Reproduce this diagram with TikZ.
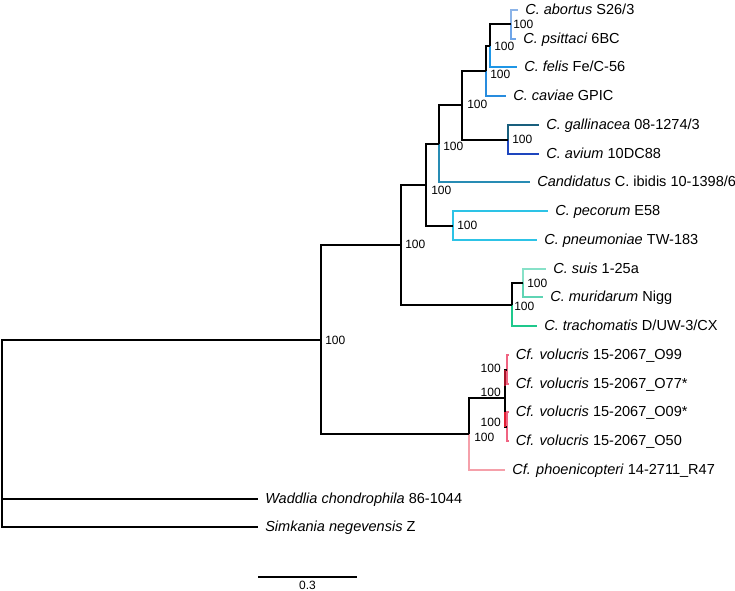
\documentclass[tikz,border=0pt]{standalone}
\usepackage{fontspec}
\setmainfont{Liberation Sans}
\definecolor{cAb}{RGB}{140,180,232}
\definecolor{cPs}{RGB}{110,165,232}
\definecolor{cFe}{RGB}{30,150,230}
\definecolor{cCa}{RGB}{40,140,222}
\definecolor{cGa}{RGB}{25,95,125}
\definecolor{cAv}{RGB}{30,70,190}
\definecolor{cCand}{RGB}{40,140,180}
\definecolor{cPec}{RGB}{45,195,230}
\definecolor{cSu}{RGB}{135,225,200}
\definecolor{cMu}{RGB}{95,212,180}
\definecolor{cTr}{RGB}{30,200,140}
\definecolor{cVo}{RGB}{240,100,130}
\definecolor{cVoD}{RGB}{165,20,40}
\definecolor{cVoR}{RGB}{225,30,50}
\definecolor{cPh}{RGB}{245,160,170}
\tikzset{
  br/.style={line width=1.5pt},
  thinbr/.style={line width=1.1pt},
  leaf/.style={anchor=west, inner xsep=5.25pt, inner ysep=0pt, text height=0.716em, text depth=0pt, font=\fontsize{10.9}{13}\selectfont},
  bs/.style={anchor=west, inner sep=0pt, text height=0.716em, text depth=0pt, font=\fontsize{9}{11}\selectfont},
  bsl/.style={bs, anchor=east},
}
\begin{document}
\begin{tikzpicture}[x=0.75pt,y=-0.75pt]
\useasboundingbox (0,0) rectangle (735,591);
% leaves
\node[leaf] (ab) at (518,10) {\textit{C. abortus} S26/3};
\node[leaf] (ps) at (516,39) {\textit{C. psittaci} 6BC};
\node[leaf] (fe) at (517,67) {\textit{C. felis} Fe/C-56};
\node[leaf] (ca) at (506,96) {\textit{C. caviae} GPIC};
\node[leaf] (ga) at (539,125) {\textit{C. gallinacea} 08-1274/3};
\node[leaf] (av) at (539,154) {\textit{C. avium} 10DC88};
\node[leaf] (cd) at (530,182) {\textit{Candidatus} C. ibidis 10-1398/6};
\node[leaf] (pe) at (548,211) {\textit{C. pecorum} E58};
\node[leaf] (pn) at (537,240) {\textit{C. pneumoniae} TW-183};
\node[leaf] (su) at (546,269) {\textit{C. suis} 1-25a};
\node[leaf] (mu) at (543,297) {\textit{C. muridarum} Nigg};
\node[leaf] (tr) at (537,326) {\textit{C. trachomatis} D/UW-3/CX};
\node[leaf] (o99) at (508.5,355) {\textit{Cf. volucris} 15-2067\_O99};
\node[leaf] (o77) at (508.5,384) {\textit{Cf. volucris} 15-2067\_O77*};
\node[leaf] (o09) at (508.5,412) {\textit{Cf. volucris} 15-2067\_O09*};
\node[leaf] (o50) at (508.5,441) {\textit{Cf. volucris} 15-2067\_O50};
\node[leaf] (ph) at (505,470) {\textit{Cf. phoenicopteri} 14-2711\_R47};
\node[leaf] (wa) at (258,499) {\textit{Waddlia chondrophila} 86-1044};
\node[leaf] (si) at (258,527) {\textit{Simkania negevensis} Z};
% internal nodes
\coordinate (A) at (511,24);
\coordinate (B) at (490,46);
\coordinate (C) at (486,71);
\coordinate (E) at (508,140);
\coordinate (D) at (462,105);
\coordinate (F) at (439,144);
\coordinate (H) at (453,226);
\coordinate (G) at (426,185);
\coordinate (K) at (523,283);
\coordinate (J) at (512,305);
\coordinate (I) at (401,245);
\coordinate (N1) at (507,370);
\coordinate (N2) at (507,427);
\coordinate (N) at (505,398);
\coordinate (M) at (469,434);
\coordinate (L) at (321,340);
\coordinate (R) at (2,434);
% branches
\draw[br,cAb] (A) |- (ab.west);
\draw[br,cPs] (A) |- (ps.west);
\draw[br] (B) |- (A);
\draw[br,cFe] (B) |- (fe.west);
\draw[br] (C) |- (B);
\draw[br,cCa] (C) |- (ca.west);
\draw[br,cGa] (E) |- (ga.west);
\draw[br,cAv] (E) |- (av.west);
\draw[br] (D) |- (C);
\draw[br] (D) |- (E);
\draw[br] (F) |- (D);
\draw[br,cCand] (F) |- (cd.west);
\draw[br,cPec] (H) |- (pe.west);
\draw[br,cPec] (H) |- (pn.west);
\draw[br] (G) |- (F);
\draw[br] (G) |- (H);
\draw[br,cSu] (K) |- (su.west);
\draw[br,cMu] (K) |- (mu.west);
\draw[br] (J) |- (K);
\draw[br,cTr] (J) |- (tr.west);
\draw[br] (I) |- (G);
\draw[br] (I) |- (J);
\draw[thinbr,cVo] (N1) |- (o99.west);
\draw[thinbr,cVo] (N1) |- (o77.west);
\draw[thinbr,cVo] (N2) |- (o09.west);
\draw[thinbr,cVo] (N2) |- (o50.west);
\draw[br] (N) |- (N1);
\draw[br] (N) |- (N2);
\draw[br,cVoD] (N |- N1) -- ++(0,16);
\draw[br,cVoR] (N |- N2) -- ++(0,-15);
\draw[br] (M) |- (N);
\draw[br,cPh] (M) |- (ph.west);
\draw[br] (L) |- (I);
\draw[br] (L) |- (M);
\draw[br] (R) |- (L);
\draw[br] (R) |- (wa.west);
\draw[br] (R) |- (si.west);
% bootstrap labels
\node[bs] (bA) at (513,24) {100};
\node[bs] (bB) at (494,46) {100};
\node[bs] (bC) at (490,74) {100};
\node[bs] (bD) at (467,104) {100};
\node[bs] (bE) at (512,139) {100};
\node[bs] (bF) at (443,146) {100};
\node[bs] (bG) at (431,190) {100};
\node[bs] (bH) at (457,225) {100};
\node[bs] (bI) at (405,244) {100};
\node[bs] (bJ) at (514,306) {100};
\node[bs] (bK) at (527,283) {100};
\node[bs] (bL) at (325,340) {100};
\node[bs] (bM) at (474,437) {100};
\node[bsl] (bN1) at (501,368) {100};
\node[bsl] (bN) at (501,392) {100};
\node[bsl] (bN2) at (501,422) {100};
% scale bar
\coordinate (s1) at (258,577);
\coordinate (s2) at (357,577);
\draw[br] (s1) -- (s2);
\node[bs, anchor=center] (sl) at (307.5,585) {0.3};
\end{tikzpicture}
\end{document}
